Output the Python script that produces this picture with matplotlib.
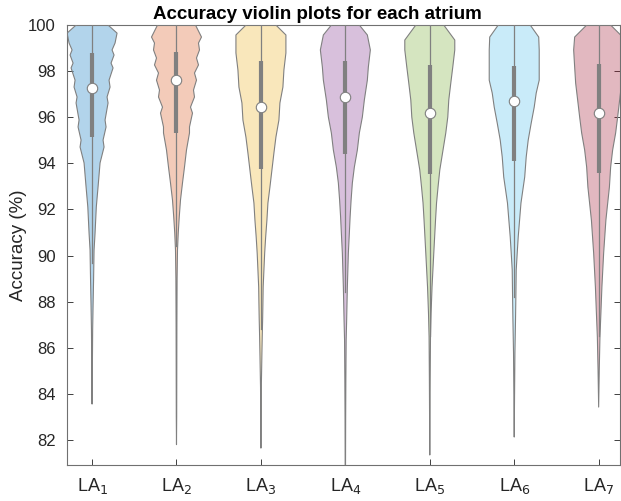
import numpy as np
import matplotlib
matplotlib.use('Agg')
import matplotlib.pyplot as plt

plt.rcParams['font.family'] = ['Liberation Sans', 'DejaVu Sans']

labels = ['LA$_1$', 'LA$_2$', 'LA$_3$', 'LA$_4$', 'LA$_5$', 'LA$_6$', 'LA$_7$']
colors = ['#0072BD', '#D95319', '#EDB120', '#7E2F8E', '#77AC30', '#4DBEEE', '#A2142F']

# density profile of each violin (y level, normalised half width)
la1_y = [100, 99.65, 99.22, 98.92, 98.7, 98.35, 98.14, 97.61, 97.31, 96.88, 96.62, 95.88, 95.58,
         95.01, 94.71, 94.02, 92.98, 92.11, 90.98, 90.24, 88.9, 87.8, 86.8, 85.0, 83.56]
la1_d = [0.64, 1.0, 0.92, 0.80, 0.88, 0.76, 0.84, 0.68, 0.72, 0.60, 0.64, 0.52, 0.56,
         0.44, 0.48, 0.32, 0.24, 0.17, 0.12, 0.08, 0.06, 0.04, 0.024, 0.012, 0]
la2_y = [100, 99.48, 99.22, 98.92, 98.57, 98.27, 97.92, 97.61, 97.18, 96.88, 96.44, 96.18, 95.58,
         95.32, 94.58, 93.84, 93.15, 92.41, 91.67, 90.98, 90.24, 89.0, 87.0, 85.0, 83.0, 81.8]
la2_d = [0.76, 1.0, 0.88, 0.92, 0.80, 0.88, 0.72, 0.80, 0.68, 0.72, 0.56, 0.64, 0.52,
         0.52, 0.40, 0.32, 0.24, 0.16, 0.11, 0.07, 0.04, 0.024, 0.016, 0.012, 0.008, 0]
la3_y = [100, 99.57, 98.79, 98.05, 97.31, 96.62, 95.88, 95.14, 94.45, 93.71, 92.97, 92.28,
         91.54, 90.81, 90.11, 89.38, 88.64, 87.94, 87.21, 86.47, 85.78, 85.04, 84.3, 81.65]
la3_d = [0.60, 1.0, 1.0, 0.92, 0.88, 0.76, 0.72, 0.60, 0.52, 0.44, 0.36, 0.28,
         0.24, 0.19, 0.15, 0.12, 0.09, 0.08, 0.068, 0.052, 0.04, 0.028, 0.016, 0]
la4_y = [100, 99.57, 98.92, 98.18, 97.61, 96.75, 96.01, 95.32, 94.58, 93.84, 93.15, 92.41,
         91.67, 90.98, 90.11, 88.64, 87.21, 86.34, 84.6, 82.87, 80.5]
la4_d = [0.56, 0.88, 1.0, 0.92, 0.88, 0.76, 0.68, 0.56, 0.48, 0.36, 0.28, 0.23,
         0.19, 0.16, 0.12, 0.08, 0.052, 0.032, 0.02, 0.012, 0.006]
la5_y = [100, 99.35, 98.92, 98.18, 97.48, 96.75, 96.01, 95.32, 94.45, 93.71, 92.97, 92.28,
         91.54, 90.11, 88.64, 87.51, 86.47, 84.6, 82.87, 81.35]
la5_d = [0.56, 1.0, 1.0, 0.92, 0.84, 0.76, 0.72, 0.64, 0.51, 0.40, 0.33, 0.27,
         0.23, 0.16, 0.09, 0.052, 0.028, 0.016, 0.008, 0]
la6_y = [100, 99.48, 98.92, 98.18, 97.61, 97.05, 96.44, 95.75, 95.01, 94.28, 93.41, 92.28,
         90.81, 90.11, 89.38, 88.38, 87.21, 85.78, 83.74, 82.13]
la6_d = [0.64, 0.98, 1.0, 1.0, 1.0, 0.88, 0.80, 0.68, 0.56, 0.48, 0.42, 0.27,
         0.16, 0.12, 0.08, 0.068, 0.052, 0.028, 0.012, 0]
la7_y = [100, 99.48, 98.92, 98.18, 97.48, 96.75, 96.01, 95.32, 94.58, 93.84, 92.97, 91.54,
         90.11, 88.64, 87.51, 86.47, 85.04, 83.43]
la7_d = [0.48, 0.96, 1.0, 0.96, 0.92, 0.84, 0.76, 0.68, 0.56, 0.48, 0.43, 0.29,
         0.20, 0.13, 0.09, 0.052, 0.024, 0]

profiles = [(la1_y, la1_d), (la2_y, la2_d), (la3_y, la3_d), (la4_y, la4_d),
            (la5_y, la5_d), (la6_y, la6_d), (la7_y, la7_d)]

medians = [97.27, 97.61, 96.44, 96.88, 96.18, 96.70, 96.18]
q1 = [95.14, 95.32, 93.76, 94.41, 93.54, 94.10, 93.58]
q3 = [98.79, 98.83, 98.44, 98.44, 98.27, 98.22, 98.31]
whisk_lo = [89.7, 90.4, 86.8, 88.4, 86.5, 88.2, 86.5]
whisk_hi = [100, 100, 100, 100, 100, 100, 100]

fig = plt.figure(figsize=(6.21, 5.01), dpi=100)
ax = fig.add_axes([0.108, 0.072, 0.89, 0.878])

half_w = 0.296
gray = '#808080'
for i, (yv, dv) in enumerate(profiles):
    x = i + 1
    yv = np.array(yv)
    hw = np.array(dv) * half_w
    ax.fill_betweenx(yv, x - hw, x + hw, facecolor=colors[i], alpha=0.3, edgecolor='none', zorder=2)
    xs = np.concatenate([x - hw, (x + hw)[::-1], [x - hw[0]]])
    ys = np.concatenate([yv, yv[::-1], [yv[0]]])
    ax.plot(xs, ys, color=gray, lw=0.8, zorder=3)
    ax.plot([x, x], [whisk_lo[i], whisk_hi[i]], color=gray, lw=0.9, zorder=4)
    ax.plot([x, x], [q1[i], q3[i]], color=gray, lw=3.0, solid_capstyle='butt', zorder=5)
    ax.plot(x, medians[i], 'o', ms=7.5, mfc='white', mec=gray, mew=0.8, zorder=6)

ax.set_xlim(0.704, 7.25)
ax.set_ylim(80.92, 100)
ax.set_xticks(range(1, 8))
ax.set_xticklabels(labels)
ax.set_yticks(np.arange(82, 101, 2))
ax.tick_params(direction='in', length=4, width=0.7, color='#404040',
               labelcolor='#262626', top=True, right=True)
ax.tick_params(axis='y', labelsize=12, pad=8)
ax.tick_params(axis='x', labelsize=13, pad=8)
for s in ax.spines.values():
    s.set_color('#707070')
    s.set_linewidth(0.8)
ax.set_ylabel('Accuracy (%)', fontsize=13.5, color='#262626')
ax.yaxis.set_label_coords(-0.073, 0.5)
ax.set_title('Accuracy violin plots for each atrium', fontsize=13.5, fontweight='bold',
             pad=4, x=0.452)

fig.savefig('out.png', dpi=100)
